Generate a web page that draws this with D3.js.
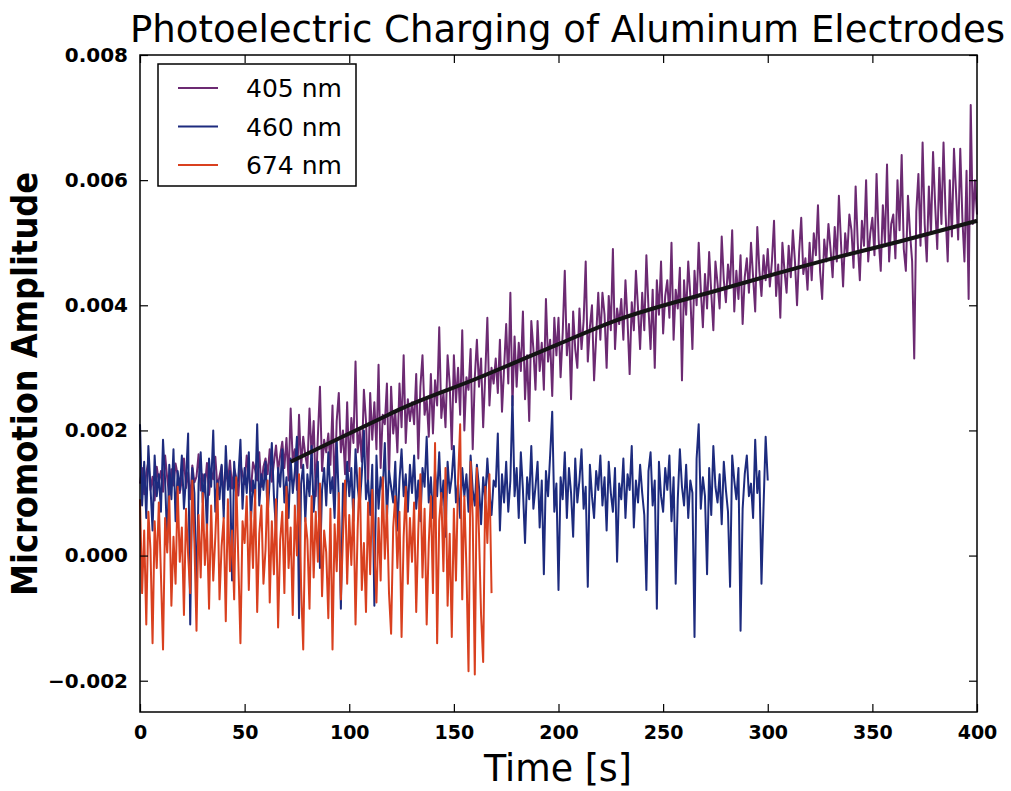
<!DOCTYPE html>
<html>
<head>
<meta charset="utf-8">
<script src="https://cdn.jsdelivr.net/npm/d3@7"></script>
<style>
  body { margin: 0; background: #fff; }
  svg { font-family: "DejaVu Sans", sans-serif; }
</style>
</head>
<body>
<div id="chart"></div>
<script>
// amplitudes in units of 1e-5, sampled once per second starting at t = 0
const unit = 1e-5;
const step = 1;

const amp405 = [
  115, 140, 98, 132, 150, 105, 126, 88, 142, 118,
  135, 102, 160, 124, 95, 138, 112, 147, 129, 100,
  121, 155, 108, 133, 90, 144, 117, 126, 162, 104,
  130, 111, 148, 97, 136, 122, 158, 109, 127, 143,
  99, 134, 118, 152, 107, 139, 125, 96, 146, 131,
  114, 160, 128, 103, 149, 137, 120, 165, 110, 142,
  155, 130, 170, 118, 148, 176, 135, 160, 182, 140,
  188, 120, 235, 150, 170, 105, 225, 140, 190, 160,
  140, 235, 160, 215, 95, 190, 270, 135, 185, 165,
  195, 145, 240, 95, 215, 260, 165, 200, 130, 245,
  135, 220, 180, 310, 165, 200, 150, 265, 215, 115,
  260, 185, 245, 170, 305, 140, 225, 210, 275, 120,
  270, 195, 230, 165, 275, 205, 320, 180, 250, 215,
  245, 210, 290, 155, 270, 320, 225, 250, 190, 290,
  195, 280, 240, 365, 220, 260, 205, 320, 275, 170,
  320, 245, 300, 225, 360, 200, 285, 265, 330, 170,
  285, 345, 270, 315, 205, 290, 380, 240, 300, 275,
  315, 260, 345, 230, 300, 370, 275, 420, 240, 350,
  270, 340, 295, 390, 250, 320, 215, 375, 330, 265,
  375, 295, 340, 265, 410, 310, 345, 255, 380, 320,
  380, 285, 355, 455, 320, 370, 250, 390, 330, 300,
  395, 330, 375, 470, 310, 365, 400, 280, 350, 420,
  345, 420, 385, 300, 415, 360, 490, 330, 395, 370,
  410, 345, 440, 375, 290, 405, 360, 455, 395, 330,
  420, 360, 480, 395, 330, 425, 300, 440, 385, 470,
  355, 415, 440, 380, 500, 345, 425, 395, 460, 280,
  440, 385, 470, 415, 330, 455, 400, 500, 425, 365,
  450, 395, 485, 420, 360, 470, 435, 395, 510, 440,
  405, 465, 430, 520, 390, 455, 410, 480, 370, 445,
  475, 420, 500, 445, 390, 525, 455, 415, 480, 440,
  490, 430, 470, 535, 415, 465, 380, 500, 455, 420,
  495, 445, 520, 470, 400, 485, 540, 450, 475, 425,
  500, 440, 515, 480, 560, 455, 410, 505, 470, 530,
  490, 445, 525, 470, 575, 500, 430, 515, 480, 545,
  520, 460, 590, 500, 440, 535, 495, 600, 470, 515,
  540, 480, 610, 505, 455, 560, 500, 625, 470, 530,
  545, 475, 600, 520, 640, 490, 455, 575, 515, 470,
  315, 550, 610, 495, 660, 530, 470, 590, 515, 645,
  560, 490, 620, 530, 660, 545, 470, 600, 510, 650,
  580, 505, 650, 540, 470, 615, 410, 720, 530, 600,
  545
];

const amp460 = [
  210, 80, 150, 60, 175, 110, 40, 160, 95, 130,
  70, 185, 120, 20, 145, 90, 170, 55, 135, 105,
  160, 75, 125, 195, -110, 140, 100, -70, 115, 165,
  85, 130, 40, 155, 110, 200, 70, 120, 90, 145,
  60, 175, 105, 135, -40, 150, 95, 125, 185, 75,
  140, 100, 165, 55, 120, 90, 210, 80, 130, 105,
  150, 65, 120, 180, 95, 40, 140, 110, 170, 85,
  125, 60, 155, 100, 135, 190, -100, 115, 145, 55,
  130, 95, 175, 70, 120, 150, -20, 105, 140, 80,
  165, 100, 125, 60, 185, 90, -85, 115, 70, 150,
  95, 140, 55, 170, 110, 80, 130, 200, 90, 120,
  65, 145, -80, 160, 75, 125, 105, 180, 60, 135,
  110, 85, 150, 40, 120, 170, 95, 130, 70, 145,
  100, 160, 75, 120, 55, 140, 110, 190, 85, 125,
  60, 135, 95, 165, 80, 120, 30, 150, 100, 125,
  175, 85, 115, 60, 140, 95, 130, 70, 160, 105,
  80, 145, 110, 50, 125, 90, 155, 100, 65, 120,
  110, 195, 40, 130, 85, 150, 70, 120, 255, 95,
  140, 60, 165, 105, 20, 125, 90, 175, 75, 110,
  150, 45, 120, -30, 135, 95, 160, 230, 70, 115,
  -55, 125, 90, 165, 60, 140, 100, 30, 155, 85,
  120, 170, 75, 110, -50, 145, 95, 60, 135, 105,
  160, 80, 125, 40, 150, 100, 70, 140, -10, 115,
  90, 155, 60, 130, 105, 175, 45, 120, 85, 145,
  100, 65, -55, 135, 165, 80, 120, -85, 150, 95,
  70, 140, 105, 160, 55, 125, -45, 90, 170, 110,
  80, 145, 60, 120, 100, -130, 155, 210, 75, 125,
  95, -30, 140, 65, 175, 110, 85, 130, 50, 150,
  105, 70, -50, 160, 120, 90, 140, -120, 75, 130,
  160, 95, 115, 60, 185, 100, 135, -45, 80, 190,
  120
];

const amp674 = [
  90, -60, 40, -110, 70, 10, -140, 55, -20, 85,
  -30, -150, 60, 5, 95, -80, 30, -45, 110, -10,
  45, -95, 75, 0, -60, 120, 20, -120, 65, -35,
  100, -15, 50, -85, 80, -40, 30, 115, -70, 15,
  60, -105, 90, -25, 40, -70, 125, -10, -140, 55,
  20, 95, -55, 70, -20, 105, -90, 35, 80, -45,
  10, 120, -75, 55, -30, 90, -115, 25, 70, -60,
  110, -20, 45, -95, 80, 0, 130, -50, -150, 60,
  25, -85, 95, -35, 70, -10, 115, -65, 40, 5,
  -100, 75, -150, 50, -25, 100, -70, 30, 120, -45,
  65, -15, 90, -110, 40, 140, -55, 20, -90, 85,
  -30, 105, 10, -75, 60, -40, 125, -5, 80, -60,
  -125, 45, 95, -20, 70, -130, 30, 110, -45, 60,
  -10, 85, -90, 40, 130, -35, 75, -110, 20, 95,
  -60, 180, -140, 55, 100, -25, 140, -80, 35, -130,
  75, -40, 120, 210, -70, 95, -20, -185, 150, 60,
  -190, 140, 35, -95, -170, 110, 20, 130, -60
];

// fitted curve for 405 nm
const fitT = [72, 95, 115, 123, 161, 200, 226, 274, 331, 363, 400];
const fitV = [150, 187, 219, 232, 283, 338, 374, 422, 475, 502, 535];

const seriesNames = ["405 nm", "460 nm", "674 nm"];
const seriesColors = ["#6c2a72", "#1d2b7e", "#d9401f"];

const xTicks = [0, 50, 100, 150, 200, 250, 300, 350, 400];
const yTicks = [-0.002, 0, 0.002, 0.004, 0.006, 0.008];

const width = 1011;
const height = 791;
const margin = { top: 55, right: 34, bottom: 79, left: 140 };
const plotWidth = width - margin.left - margin.right;
const plotHeight = height - margin.top - margin.bottom;

const svg = d3.select("#chart")
  .append("svg")
  .attr("width", width)
  .attr("height", height);

const plot = svg.append("g")
  .attr("transform", `translate(${margin.left},${margin.top})`);

const x = d3.scaleLinear().domain([0, 400]).range([0, plotWidth]);
const y = d3.scaleLinear().domain([-0.0025, 0.008]).range([plotHeight, 0]);

const line = d3.line()
  .x(d => x(d.t))
  .y(d => y(d.v));

function toPoints(arr) {
  return arr.map((v, i) => ({ t: i * step, v: v * unit }));
}

[amp405, amp460, amp674].forEach((arr, i) => {
  plot.append("path")
    .datum(toPoints(arr))
    .attr("fill", "none")
    .attr("stroke", seriesColors[i])
    .attr("stroke-width", 2)
    .attr("stroke-linejoin", "round")
    .attr("d", line);
});

const fitPoints = fitT.map((t, i) => ({ t: t, v: fitV[i] * unit }));
plot.append("path")
  .datum(fitPoints)
  .attr("fill", "none")
  .attr("stroke", "#141414")
  .attr("stroke-width", 4)
  .attr("d", line.curve(d3.curveMonotoneX));

// frame
plot.append("rect")
  .attr("width", plotWidth)
  .attr("height", plotHeight)
  .attr("fill", "none")
  .attr("stroke", "#000")
  .attr("stroke-width", 1.5);

// axes with inward ticks
const xAxis = plot.append("g")
  .attr("transform", `translate(0,${plotHeight})`)
  .call(d3.axisBottom(x).tickValues(xTicks).tickSizeInner(-8).tickSizeOuter(0).tickPadding(14).tickFormat(d3.format("d")));
const xTop = plot.append("g")
  .call(d3.axisTop(x).tickValues(xTicks).tickSizeInner(-8).tickSizeOuter(0).tickFormat(""));
const yAxis = plot.append("g")
  .call(d3.axisLeft(y).tickValues(yTicks).tickSizeInner(-8).tickSizeOuter(0).tickPadding(12)
    .tickFormat(d => d3.format(".3f")(d).replace("-", "\u2212")));
const yRight = plot.append("g")
  .attr("transform", `translate(${plotWidth},0)`)
  .call(d3.axisRight(y).tickValues(yTicks).tickSizeInner(-8).tickSizeOuter(0).tickFormat(""));

[xAxis, xTop, yAxis, yRight].forEach(g => {
  g.select(".domain").remove();
  g.selectAll(".tick line").attr("stroke", "#000").attr("stroke-width", 1.2);
  g.selectAll("text")
    .attr("fill", "#000")
    .style("font-size", "20px")
    .style("font-weight", "bold")
    .style("font-family", "DejaVu Sans, sans-serif");
});
xAxis.selectAll("text").style("font-size", "19px");

// titles
svg.append("text")
  .attr("x", 130)
  .attr("y", 42)
  .attr("textLength", 875)
  .attr("lengthAdjust", "spacingAndGlyphs")
  .style("font-size", "37px")
  .text("Photoelectric Charging of Aluminum Electrodes");

svg.append("text")
  .attr("x", 558)
  .attr("y", 781)
  .attr("text-anchor", "middle")
  .attr("textLength", 148)
  .attr("lengthAdjust", "spacingAndGlyphs")
  .style("font-size", "37px")
  .text("Time [s]");

svg.append("text")
  .attr("transform", "rotate(-90)")
  .attr("x", -384)
  .attr("y", 37)
  .attr("text-anchor", "middle")
  .attr("textLength", 424)
  .attr("lengthAdjust", "spacingAndGlyphs")
  .style("font-size", "35px")
  .style("font-weight", "bold")
  .text("Micromotion Amplitude");

// legend
const legend = svg.append("g")
  .attr("transform", "translate(158,64)");

legend.append("rect")
  .attr("width", 198)
  .attr("height", 122)
  .attr("fill", "#fff")
  .attr("stroke", "#000")
  .attr("stroke-width", 1.5);

seriesNames.forEach((name, i) => {
  const row = legend.append("g")
    .attr("transform", `translate(0,${24 + i * 38.5})`);
  row.append("line")
    .attr("x1", 20)
    .attr("x2", 60)
    .attr("stroke", seriesColors[i])
    .attr("stroke-width", 2);
  row.append("text")
    .attr("x", 88)
    .attr("y", 9)
    .style("font-size", "25px")
    .text(name);
});
</script>
</body>
</html>
